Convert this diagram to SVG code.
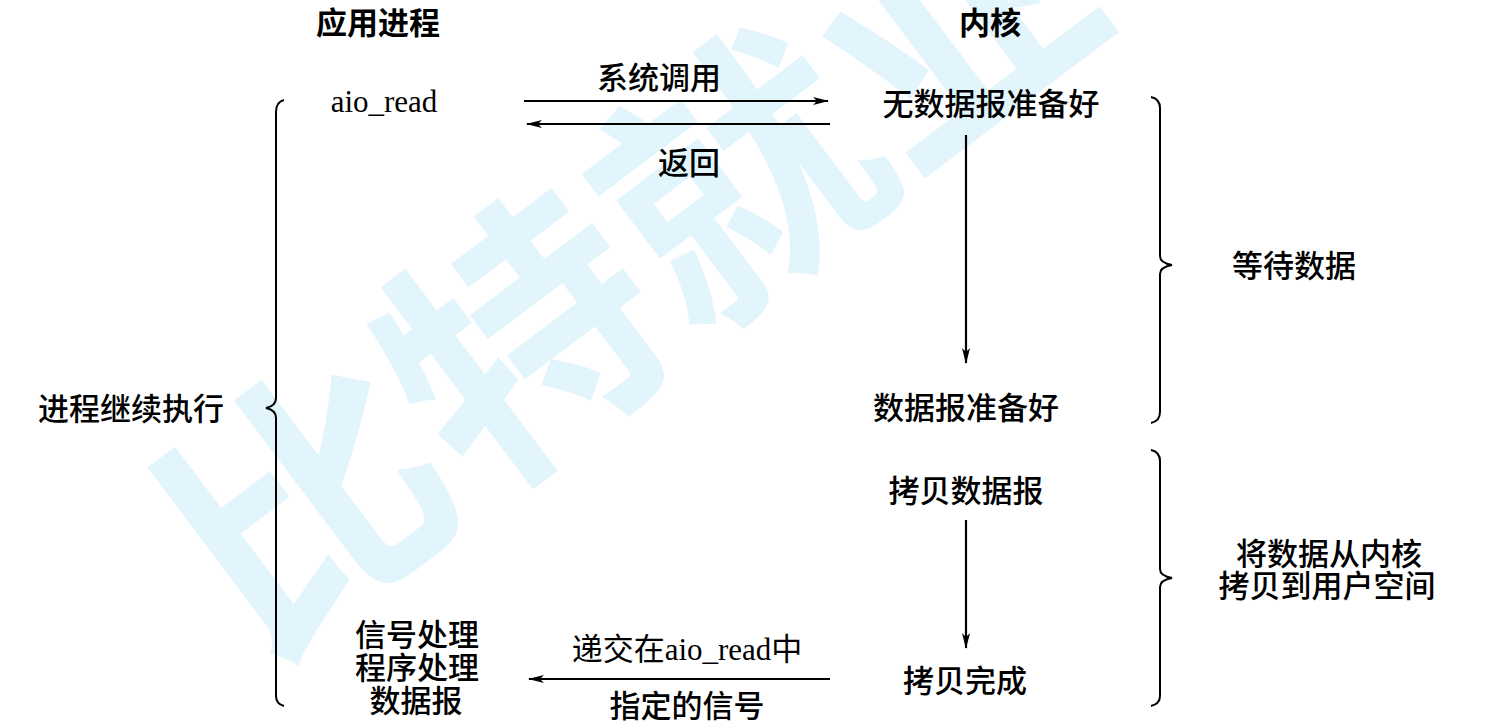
<svg xmlns="http://www.w3.org/2000/svg" width="1498" height="726" viewBox="0 0 1498 726">
<defs>
<marker id="ah" viewBox="0 0 16 8" refX="15" refY="4" markerWidth="16" markerHeight="8" markerUnits="userSpaceOnUse" orient="auto">
<path d="M0,0 L16,4 L0,8 L4,4 Z" fill="#000"/>
</marker>
</defs>
<style>
.t{font-family:"Noto Sans CJK SC","Liberation Sans",sans-serif;font-size:31px;font-weight:500;fill:#000;text-anchor:middle}
.b{font-weight:700}
.m{font-family:"Liberation Serif","Noto Sans CJK SC",serif;font-size:31px;fill:#000;text-anchor:middle}
.ln{stroke:#000;stroke-width:2.2;fill:none}
.br{stroke:#000;stroke-width:2;fill:none}
.wm{font-family:"Noto Sans CJK SC",sans-serif;font-size:270px;font-weight:700;fill:#e2f4fc}
</style>
<rect width="1498" height="726" fill="#fff"/>
<g id="watermark">
<text class="wm" transform="translate(260,665) rotate(-37)">比特就业</text>
</g>
<g id="connectors">
<line class="ln" x1="524" y1="101" x2="828" y2="101" marker-end="url(#ah)"/>
<line class="ln" x1="830" y1="124" x2="527" y2="124" marker-end="url(#ah)"/>
<line class="ln" x1="966" y1="135" x2="966" y2="363" marker-end="url(#ah)"/>
<line class="ln" x1="966" y1="520" x2="966" y2="648" marker-end="url(#ah)"/>
<line class="ln" x1="830" y1="679" x2="529" y2="679" marker-end="url(#ah)"/>
</g>
<g id="brace-left">
<path class="br" d="M284,100 Q276,102 276,112 L276,398 Q276,406 266,408 Q276,410 276,418 L276,696 Q276,704 284,706"/>
</g>
<g id="brace-wait">
<path class="br" d="M1151,97 Q1160,99 1160,108 L1160,256 Q1160,263 1172,265 Q1160,267 1160,274 L1160,412 Q1160,421 1151,423"/>
</g>
<g id="brace-copy">
<path class="br" d="M1151,450 Q1160,452 1160,461 L1160,569 Q1160,576 1172,578 Q1160,580 1160,587 L1160,696 Q1160,704 1151,706"/>
</g>
<g id="title-app"><text class="t b" x="378" y="34">应用进程</text></g>
<g id="title-kernel"><text class="t b" x="990" y="34">内核</text></g>
<g id="aio-read"><text class="m" x="384" y="112">aio_read</text></g>
<g id="label-syscall"><text class="t" x="659" y="89">系统调用</text></g>
<g id="label-return"><text class="t" x="689" y="174">返回</text></g>
<g id="k-nodata"><text class="t" x="991" y="115">无数据报准备好</text></g>
<g id="k-ready"><text class="t" x="966" y="419">数据报准备好</text></g>
<g id="k-copy"><text class="t" x="966" y="502">拷贝数据报</text></g>
<g id="k-done"><text class="t" x="965" y="692">拷贝完成</text></g>
<g id="label-wait"><text class="t" x="1294" y="277">等待数据</text></g>
<g id="label-copyspace"><text class="t" x="1329" y="565">将数据从内核</text><text class="t" x="1327" y="597">拷贝到用户空间</text></g>
<g id="label-continue"><text class="t" x="131" y="420">进程继续执行</text></g>
<g id="handler"><text class="t" x="417" y="646">信号处理</text><text class="t" x="417" y="679">程序处理</text><text class="t" x="416" y="712">数据报</text></g>
<g id="label-deliver"><text class="m" x="687" y="660">递交在aio_read中</text><text class="t" x="687" y="717">指定的信号</text></g>
</svg>
